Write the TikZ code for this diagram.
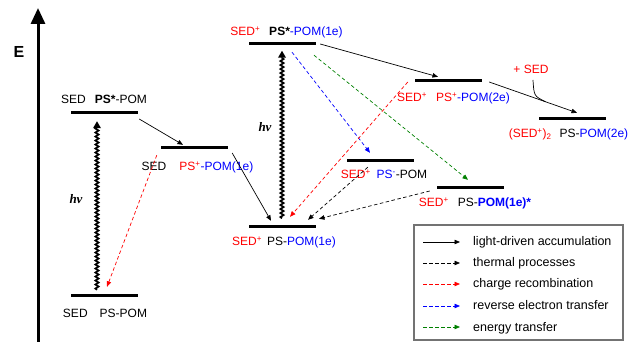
\documentclass[tikz,border=0pt]{standalone}
\usepackage{fontspec}
\setmainfont{Liberation Sans}
\newfontfamily\hvfont{Liberation Serif}
\usepackage{tikz}
\usetikzlibrary{arrows.meta,decorations.pathmorphing}
\definecolor{sedred}{RGB}{255,0,0}
\definecolor{pomblue}{RGB}{0,0,255}
\definecolor{engreen}{RGB}{0,128,0}
\newcommand{\rt}[1]{\textcolor{sedred}{#1}}
\newcommand{\bt}[1]{\textcolor{pomblue}{#1}}

\begin{document}
\begin{tikzpicture}[x=1pt,y=-1pt,
    lvbar/.style={fill=black,inner sep=0pt,minimum width=67pt,minimum height=3pt},
    txt/.style={font=\fontsize{12}{14}\selectfont,inner sep=0pt,anchor=base},
    keytxt/.style={font=\fontsize{12.5}{15}\selectfont,inner sep=0pt,anchor=base west},
    hv/.style={font={\hvfont\fontsize{13}{15}\selectfont\bfseries\itshape},inner sep=0pt,anchor=base},
    arr/.style={-{Triangle[length=5.5pt,width=4.5pt]}},
    accum/.style={arr,line width=0.7pt},
    thermal/.style={arr,line width=0.7pt,dash pattern=on 3.5pt off 2.5pt},
    recomb/.style={thermal,sedred},
    backet/.style={thermal,pomblue},
    entr/.style={thermal,engreen},
    photon/.style={line width=1.7pt,-{Triangle[length=7pt,width=7.5pt]},decorate,
        decoration={snake,amplitude=1.6pt,segment length=4pt,post length=6pt}}]
    \useasboundingbox (0,0) rectangle (633,342);

    \coordinate (axbot) at (38,342);
    \coordinate (axtop) at (38,8);
    \draw[line width=3pt,-{Triangle[length=16pt,width=14pt]}] (axbot) -- (axtop);
    \node[font=\fontsize{16}{18}\selectfont\bfseries,inner sep=0pt] (E) at (19,52) {E};

    \node[lvbar] (lvA) at (104.5,113) {};
    \node[lvbar] (lv0) at (104.5,296) {};
    \node[lvbar] (lvB) at (194.5,148) {};
    \node[lvbar] (lvC) at (282.5,44) {};
    \node[lvbar] (lvD) at (282.5,227) {};
    \node[lvbar] (lvE) at (448.5,81) {};
    \node[lvbar] (lvF) at (572.5,119) {};
    \node[lvbar] (lvG) at (380.5,161) {};
    \node[lvbar] (lvH) at (470.5,188) {};

    \node[txt] (tA) at (104,104) {SED\hspace{9pt}\textbf{PS*}-POM};
    \node[txt] (t0) at (105,318) {SED\hspace{12pt}PS-POM};
    \node[txt] (tB) at (197.5,171) {SED\hspace{13pt}\rt{PS\textsuperscript{+}}\bt{-POM(1e)}};
    \node[txt] (tC) at (286.5,36) {\rt{SED\textsuperscript{+}}\hspace{9pt}\textbf{PS*}\bt{-POM(1e)}};
    \node[txt] (tD) at (284,246) {\rt{SED\textsuperscript{+}}\hspace{5pt}PS-\bt{POM(1e)}};
    \node[txt] (tE) at (453.5,102) {\rt{SED\textsuperscript{+}}\hspace{9pt}\rt{PS\textsuperscript{+}}\bt{-POM(2e)}};
    \node[txt] (tF) at (568.5,138) {\rt{(SED\textsuperscript{+})\textsubscript{2}}\hspace{8pt}PS-\bt{POM(2e)}};
    \node[txt] (tG) at (384,179) {\rt{SED\textsuperscript{+}}\hspace{6pt}\bt{PS\textsuperscript{-}}-POM};
    \node[txt] (tH) at (475,207) {\rt{SED\textsuperscript{+}}\hspace{9pt}PS-\bt{\textbf{POM(1e)*}}};
    \node[txt,sedred] (plus) at (531,74) {+ SED};

    \draw[photon] ([xshift=-7.5pt,yshift=4.5pt]lv0.north) -- ([xshift=-7.5pt,yshift=-6.5pt]lvA.south);
    \draw[photon] ([xshift=-0.5pt,yshift=7pt]lvD.north) -- ([xshift=-0.5pt,yshift=-5pt]lvC.south);
    \node[hv] (hvA) at (76,204) {hν};
    \node[hv] (hvC) at (265,132) {hν};

    \draw[accum] ([xshift=1pt,yshift=-6pt]lvA.east) -- ([xshift=-11.5pt,yshift=1.5pt]lvB.north);
    \draw[accum] ([xshift=4pt,yshift=-5pt]lvB.east) -- ([xshift=-11.5pt,yshift=4.5pt]lvD.north);
    \draw[accum] ([xshift=4pt]lvC.east) -- ([xshift=-10.5pt,yshift=2.5pt]lvE.north);
    \draw[accum] ([xshift=7pt,yshift=-1pt]lvE.east) -- coordinate[pos=0.64] (merge) ([xshift=4.5pt,yshift=4.5pt]lvF.north);
    \draw[line width=0.7pt] ([xshift=2pt,yshift=-6pt]plus.base) .. controls ([xshift=3pt,yshift=-22pt]plus.base) .. (merge);

    \draw[recomb] ([xshift=-4pt,yshift=-5.5pt]lvB.south west) -- ([xshift=2.5pt,yshift=7.5pt]lv0.north);
    \draw[backet] ([xshift=9.5pt,yshift=-6.5pt]lvC.south) -- ([xshift=-10.5pt,yshift=6.5pt]lvG.north);
    \draw[entr] ([xshift=31.5pt,yshift=-9.5pt]lvC.south) -- ([xshift=-2.5pt,yshift=6.5pt]lvH.north);
    \draw[recomb] ([xshift=-7pt,yshift=-1pt]lvE.west) -- ([xshift=7.5pt,yshift=8.5pt]lvD.north);
    \draw[thermal] ([xshift=21pt,yshift=-4.5pt]lvG.south west) -- ([xshift=25.5pt,yshift=5.5pt]lvD.north);
    \draw[thermal] ([xshift=-7pt,yshift=-3pt]lvH.west) -- ([xshift=36.5pt,yshift=6.5pt]lvD.north);

    \node[draw=black!55,line width=1.2pt,minimum width=209pt,minimum height=115pt,inner sep=0pt] (legend) at (518.5,282.5) {};
    \coordinate (k1) at (423,242);
    \coordinate (k2) at (423,263);
    \coordinate (k3) at (423,284);
    \coordinate (k4) at (423,306);
    \coordinate (k5) at (423,327);
    \node[keytxt] (l1) at (473,246) {light-driven accumulation};
    \node[keytxt] (l2) at (473,267) {thermal processes};
    \node[keytxt] (l3) at (473,288) {charge recombination};
    \node[keytxt] (l4) at (473,310) {reverse electron transfer};
    \node[keytxt] (l5) at (473,331) {energy transfer};
    \draw[accum] (k1) -- ([xshift=-13pt,yshift=4pt]l1.base west);
    \draw[thermal] (k2) -- ([xshift=-13pt,yshift=4pt]l2.base west);
    \draw[recomb] (k3) -- ([xshift=-13pt,yshift=4pt]l3.base west);
    \draw[backet] (k4) -- ([xshift=-13pt,yshift=4pt]l4.base west);
    \draw[entr] (k5) -- ([xshift=-13pt,yshift=4pt]l5.base west);
\end{tikzpicture}
\end{document}
